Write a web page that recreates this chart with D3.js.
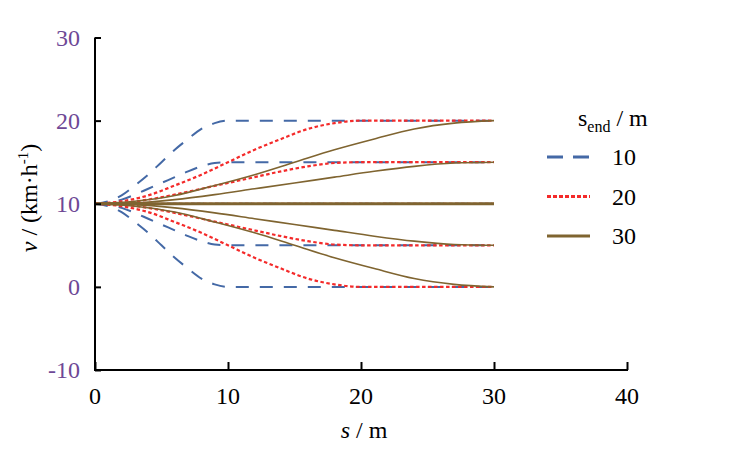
<!DOCTYPE html>
<html lang="en">
<head>
    <meta charset="UTF-8">
    <title>v vs s</title>
    <script src="https://cdnjs.cloudflare.com/ajax/libs/d3/7.8.5/d3.min.js"></script>
    <style>
        body { margin: 0; background: #fff; }
        svg text { font-family: "Liberation Serif", Tinos, "DejaVu Serif", serif !important; }
    </style>
</head>
<body>

<script>
    // distance grids (m) for each s_end group
    var sGrid10 = [0, 1, 2, 3, 4, 5, 6, 7, 8, 9, 10, 30],
        sGrid20 = [0, 2, 4, 6, 8, 10, 12, 14, 16, 18, 20, 30],
        sGrid30 = [0, 3, 6, 9, 12, 15, 18, 21, 24, 27, 30];

    // speed (km/h), same points along each grid
    var vTo20 = [10, 10.3, 11.0, 12.2, 13.5, 15.0, 16.5, 17.8, 19.0, 19.7, 20, 20],
        vTo15 = [10, 10.1, 10.5, 11.1, 11.8, 12.5, 13.2, 13.9, 14.5, 14.9, 15, 15],
        vTo10 = [10, 10, 10, 10, 10, 10, 10, 10, 10, 10, 10, 10],
        vTo5  = [10, 9.9, 9.5, 8.9, 8.2, 7.5, 6.8, 6.1, 5.5, 5.1, 5, 5],
        vTo0  = [10, 9.7, 9.0, 7.8, 6.5, 5.0, 3.5, 2.2, 1.0, 0.3, 0, 0];

    var sEnd = [10, 20, 30],
        grids = [sGrid10, sGrid20, sGrid30],
        targets = [vTo20, vTo15, vTo10, vTo5, vTo0];

    var xTicks = [0, 10, 20, 30, 40],
        yTicks = [-10, 0, 10, 20, 30];

    var width = 733,
        height = 457,
        serif = "Liberation Serif, Tinos, DejaVu Serif, serif";

    var svg = d3.select("body").append("svg")
        .attr("width", width)
        .attr("height", height)
        .attr("font-family", serif);

    var x = d3.scaleLinear().domain([0, 40]).range([95, 627]),
        y = d3.scaleLinear().domain([-10, 30]).range([370, 37.5]);

    var colors = ["#4469a6", "#f42a2a", "#7f6430"],
        dashes = ["13,11", "3.5,2.5", null],
        widths = [2, 2.2, 1.6];

    // series: one per (s_end, target)
    var series = [];
    sEnd.forEach(function (se, i) {
        targets.forEach(function (vs) {
            var g = grids[i];
            series.push({
                group: i,
                flat: vs[vs.length - 1] === 10,
                pts: g.map(function (s, k) { return [s, vs[k]]; })
            });
        });
    });

    var line = d3.line()
        .x(function (d) { return x(d[0]); })
        .y(function (d) { return y(d[1]); })
        .curve(d3.curveMonotoneX);

    svg.append("g").selectAll("path").data(series)
        .enter().append("path")
        .attr("d", function (d) { return line(d.pts); })
        .attr("fill", "none")
        .attr("stroke", function (d) { return colors[d.group]; })
        .attr("stroke-width", function (d) { return d.group === 2 && d.flat ? 2.8 : widths[d.group]; })
        .attr("stroke-dasharray", function (d) { return dashes[d.group]; });

    // axes (ticks point inward)
    var xAxis = svg.append("g").attr("transform", "translate(0," + y(-10) + ")");
    xAxis.call(d3.axisTop(x).tickValues(d3.range(5, 40, 10)).tickSize(5.5).tickFormat(""));
    xAxis.call(d3.axisTop(x).tickValues(xTicks).tickSize(8).tickFormat(""));
    xAxis.selectAll(".domain").remove();
    xAxis.append("line").attr("x1", x(0) - 1).attr("x2", x(40) + 1)
        .attr("stroke", "#000").attr("stroke-width", 2);
    xAxis.selectAll(".tick line").attr("stroke", "#000").attr("stroke-width", 2);

    var yAxis = svg.append("g").attr("transform", "translate(" + x(0) + ",0)");
    yAxis.call(d3.axisRight(y).tickValues(d3.range(-5, 30, 10)).tickSize(6).tickFormat(""));
    yAxis.call(d3.axisRight(y).tickValues(yTicks).tickSize(6).tickFormat(""));
    yAxis.selectAll(".domain").remove();
    yAxis.append("line").attr("y1", y(-10) + 1).attr("y2", y(30))
        .attr("stroke", "#000").attr("stroke-width", 2);
    yAxis.selectAll(".tick line").attr("stroke", "#000").attr("stroke-width", 2);

    svg.append("g").selectAll("text").data(xTicks)
        .enter().append("text")
        .attr("x", function (d) { return x(d); })
        .attr("y", 404)
        .attr("text-anchor", "middle")
        .attr("font-size", 24)
        .text(function (d) { return d; });

    svg.append("g").selectAll("text").data(yTicks)
        .enter().append("text")
        .attr("x", 80)
        .attr("y", function (d) { return y(d) + 8; })
        .attr("text-anchor", "end")
        .attr("font-size", 24)
        .attr("fill", "#6e4896")
        .text(function (d) { return d; });

    // axis titles
    var xt = svg.append("text").attr("x", 364).attr("y", 438)
        .attr("text-anchor", "middle").attr("font-size", 24);
    xt.append("tspan").attr("font-style", "italic").text("s");
    xt.append("tspan").text(" / m");

    var yt = svg.append("text")
        .attr("transform", "translate(37,198) rotate(-90)")
        .attr("text-anchor", "middle").attr("font-size", 24);
    yt.append("tspan").attr("font-style", "italic").text("v");
    yt.append("tspan").text(" / (km\u00b7h");
    yt.append("tspan").attr("font-size", 15).attr("dy", -9).text("-1");
    yt.append("tspan").attr("dy", 9).text(")");

    // legend
    var lg = svg.append("g");
    var lt = lg.append("text").attr("x", 578).attr("y", 126).attr("font-size", 24);
    lt.append("tspan").text("s");
    lt.append("tspan").attr("font-size", 16).attr("dy", 6).text("end");
    lt.append("tspan").attr("dy", -6).text(" / m");

    var items = lg.selectAll("g.item").data(sEnd)
        .enter().append("g").attr("class", "item")
        .attr("transform", function (d, i) { return "translate(0," + (157 + i * 39.5) + ")"; });
    items.append("line")
        .attr("x1", 547).attr("x2", 590)
        .attr("stroke", function (d, i) { return colors[i]; })
        .attr("stroke-width", 3)
        .attr("stroke-dasharray", function (d, i) { return i === 0 ? "16,10" : dashes[i] ? "4,2" : null; });
    items.append("text")
        .attr("x", 612).attr("y", 8)
        .attr("font-size", 24)
        .text(function (d) { return d; });
</script>

</body>
</html>
